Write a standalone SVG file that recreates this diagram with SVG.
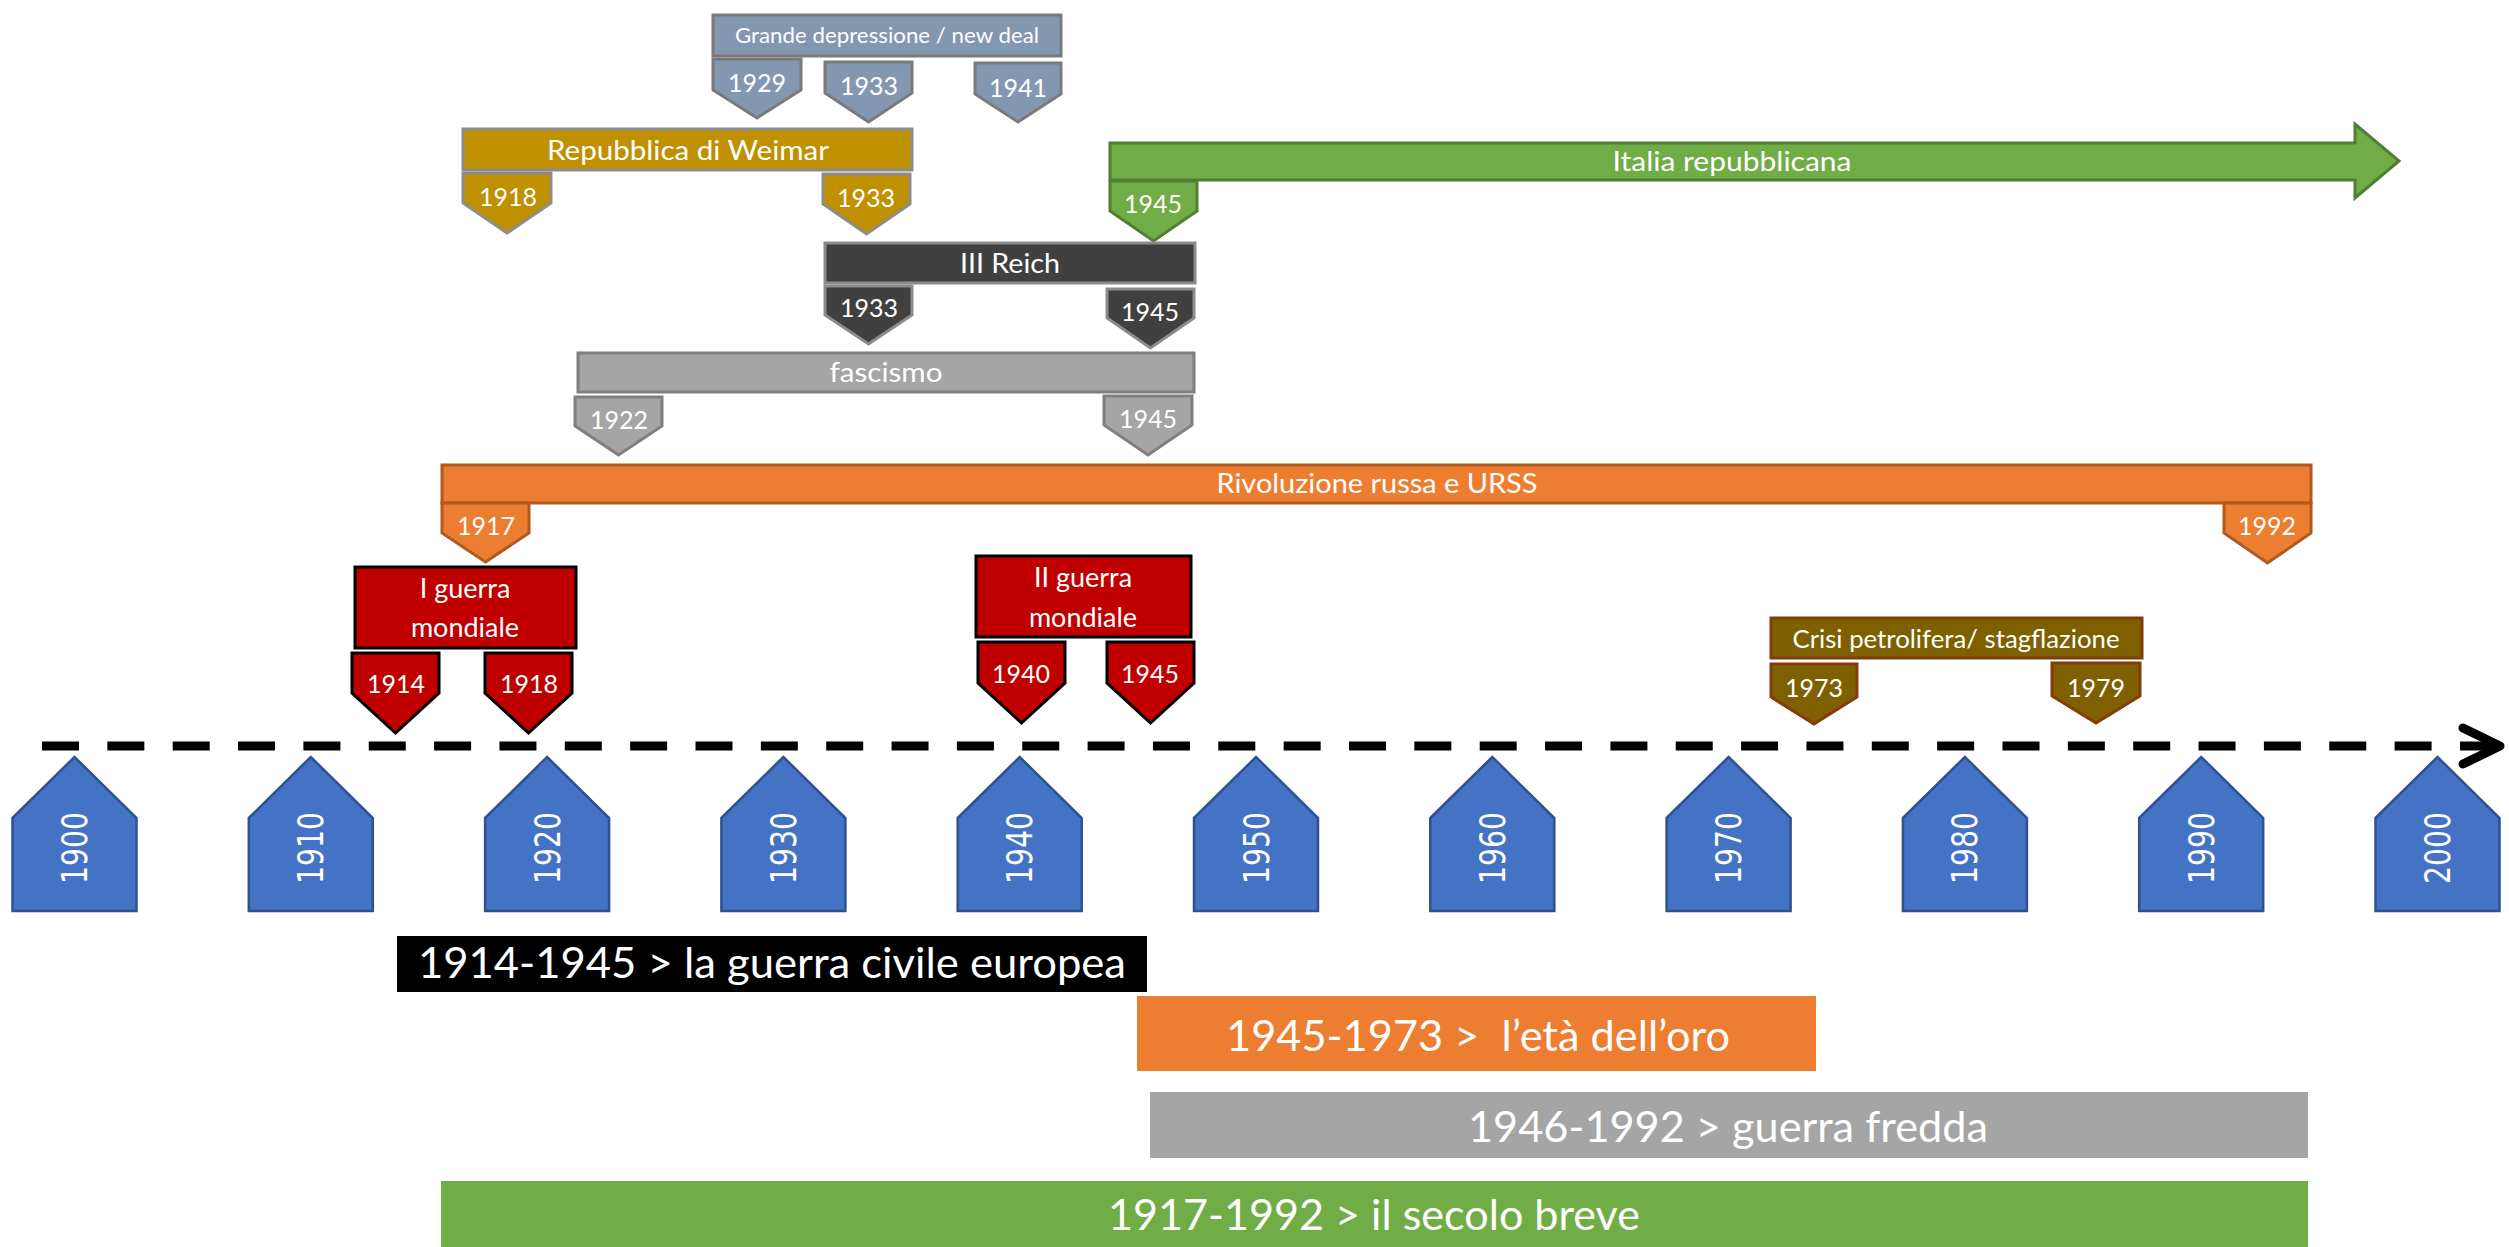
<svg xmlns="http://www.w3.org/2000/svg" width="2509" height="1247" viewBox="0 0 2509 1247">
<style>
text{font-family:Lato,"Liberation Sans",sans-serif;fill:#fff;text-anchor:middle}
.yr{font-size:25px}
.lb{font-size:27px}
.big{font-size:42px}
.dec{font-family:"DejaVu Sans",Verdana,sans-serif;font-size:35px}
.gd{fill:#8497B0;stroke:#7A7A7A;stroke-width:3}
.wm{fill:#BF9000;stroke:#8C8C8C;stroke-width:3}
.it{fill:#70AD47;stroke:#507E32;stroke-width:3}
.rc{fill:#404040;stroke:#8C8C8C;stroke-width:3}
.fa{fill:#A5A5A5;stroke:#7F7F7F;stroke-width:3}
.ur{fill:#ED7D31;stroke:#AE5A21;stroke-width:3}
.wr{fill:#C00000;stroke:#000;stroke-width:3}
.cr{fill:#7F6000;stroke:#843C0C;stroke-width:3}
.hs{fill:#4472C4;stroke:#2F528F;stroke-width:2.5}
</style>
<g id="timeline">
<line x1="42" y1="746" x2="2496" y2="746" stroke="#000" stroke-width="9" stroke-dasharray="37 28.35"/>
<path d="M2463,728 L2500,746 L2463,764" fill="none" stroke="#000" stroke-width="9" stroke-linecap="round" stroke-linejoin="round"/>
</g>
<g id="decades">
<g id="d1900"><path class="hs" d="M12.5,818 L74.5,757 L136.5,818 L136.5,911 L12.5,911Z"/><text class="dec" transform="translate(87,848) rotate(-90)" textLength="72" lengthAdjust="spacingAndGlyphs">1900</text></g>
<g id="d1910"><path class="hs" d="M248.8,818 L310.8,757 L372.8,818 L372.8,911 L248.8,911Z"/><text class="dec" transform="translate(323.3,848) rotate(-90)" textLength="72" lengthAdjust="spacingAndGlyphs">1910</text></g>
<g id="d1920"><path class="hs" d="M485.1,818 L547.1,757 L609.1,818 L609.1,911 L485.1,911Z"/><text class="dec" transform="translate(559.6,848) rotate(-90)" textLength="72" lengthAdjust="spacingAndGlyphs">1920</text></g>
<g id="d1930"><path class="hs" d="M721.4,818 L783.4,757 L845.4,818 L845.4,911 L721.4,911Z"/><text class="dec" transform="translate(795.9,848) rotate(-90)" textLength="72" lengthAdjust="spacingAndGlyphs">1930</text></g>
<g id="d1940"><path class="hs" d="M957.7,818 L1019.7,757 L1081.7,818 L1081.7,911 L957.7,911Z"/><text class="dec" transform="translate(1032.2,848) rotate(-90)" textLength="72" lengthAdjust="spacingAndGlyphs">1940</text></g>
<g id="d1950"><path class="hs" d="M1194,818 L1256,757 L1318,818 L1318,911 L1194,911Z"/><text class="dec" transform="translate(1268.5,848) rotate(-90)" textLength="72" lengthAdjust="spacingAndGlyphs">1950</text></g>
<g id="d1960"><path class="hs" d="M1430.3,818 L1492.3,757 L1554.3,818 L1554.3,911 L1430.3,911Z"/><text class="dec" transform="translate(1504.8,848) rotate(-90)" textLength="72" lengthAdjust="spacingAndGlyphs">1960</text></g>
<g id="d1970"><path class="hs" d="M1666.6,818 L1728.6,757 L1790.6,818 L1790.6,911 L1666.6,911Z"/><text class="dec" transform="translate(1741.1,848) rotate(-90)" textLength="72" lengthAdjust="spacingAndGlyphs">1970</text></g>
<g id="d1980"><path class="hs" d="M1902.9,818 L1964.9,757 L2026.9,818 L2026.9,911 L1902.9,911Z"/><text class="dec" transform="translate(1977.4,848) rotate(-90)" textLength="72" lengthAdjust="spacingAndGlyphs">1980</text></g>
<g id="d1990"><path class="hs" d="M2139.2,818 L2201.2,757 L2263.2,818 L2263.2,911 L2139.2,911Z"/><text class="dec" transform="translate(2213.7,848) rotate(-90)" textLength="72" lengthAdjust="spacingAndGlyphs">1990</text></g>
<g id="d2000"><path class="hs" d="M2375.5,818 L2437.5,757 L2499.5,818 L2499.5,911 L2375.5,911Z"/><text class="dec" transform="translate(2450,848) rotate(-90)" textLength="72" lengthAdjust="spacingAndGlyphs">2000</text></g>
</g>
<g id="grande-depressione">
<rect class="gd" x="713" y="15" width="348" height="41"/>
<text x="887" y="43" font-size="21" textLength="304" lengthAdjust="spacingAndGlyphs">Grande depressione / new deal</text>
<path class="gd" d="M713,59 H801 V90 L757,118 L713,90Z"/><text class="yr" x="757" y="92">1929</text>
<path class="gd" d="M825,62 H912 V93 L868.5,122 L825,93Z"/><text class="yr" x="869" y="95">1933</text>
<path class="gd" d="M975,63 H1061 V94 L1018,122 L975,94Z"/><text class="yr" x="1018" y="97">1941</text>
</g>
<g id="weimar">
<rect class="wm" x="463" y="129" width="449" height="41"/>
<text class="lb" x="688" y="160" font-size="28" textLength="282" lengthAdjust="spacingAndGlyphs">Repubblica di Weimar</text>
<path class="wm" d="M463,173 H551 V203 L507,233 L463,203Z"/><text class="yr" x="508" y="206">1918</text>
<path class="wm" d="M823,174 H910 V204 L866.5,234 L823,204Z"/><text class="yr" x="866" y="207">1933</text>
</g>
<g id="italia-repubblicana">
<path class="it" d="M1110,143 H2355 V124 L2399,161 L2355,198 V180 H1110Z"/>
<text class="lb" x="1732" y="171" textLength="239" lengthAdjust="spacingAndGlyphs">Italia repubblicana</text>
<path class="it" d="M1110,181 H1197 V211 L1153.5,241 L1110,211Z"/><text class="yr" x="1153" y="213">1945</text>
</g>
<g id="terzo-reich">
<rect class="rc" x="825" y="243" width="370" height="40"/>
<text class="lb" x="1010" y="273" font-size="28" textLength="100" lengthAdjust="spacingAndGlyphs">III Reich</text>
<path class="rc" d="M825,286 H912 V315 L868.5,344 L825,315Z"/><text class="yr" x="869" y="317">1933</text>
<path class="rc" d="M1107,289 H1194 V318 L1150.5,348 L1107,318Z"/><text class="yr" x="1150" y="321">1945</text>
</g>
<g id="fascismo">
<rect class="fa" x="578" y="353" width="616" height="39"/>
<text class="lb" x="886" y="382" font-size="28" textLength="113" lengthAdjust="spacingAndGlyphs">fascismo</text>
<path class="fa" d="M575,397 H662 V426 L618.5,455 L575,426Z"/><text class="yr" x="619" y="429">1922</text>
<path class="fa" d="M1104,396 H1192 V425 L1148,455 L1104,425Z"/><text class="yr" x="1148" y="428">1945</text>
</g>
<g id="rivoluzione-russa">
<rect class="ur" x="442" y="465" width="1869" height="38"/>
<text class="lb" x="1377" y="493" textLength="321" lengthAdjust="spacingAndGlyphs">Rivoluzione russa e URSS</text>
<path class="ur" d="M442,503 H529 V533 L485.5,562 L442,533Z"/><text class="yr" x="486" y="535">1917</text>
<path class="ur" d="M2224,503 H2311 V533 L2267.5,563 L2224,533Z"/><text class="yr" x="2267" y="535">1992</text>
</g>
<g id="prima-guerra">
<rect class="wr" x="355" y="567" width="221" height="81"/>
<text class="lb" x="465" y="598">I guerra</text>
<text class="lb" x="465" y="637">mondiale</text>
<path class="wr" d="M352,653 H439 V693 L395.5,733 L352,693Z"/><text class="yr" x="396" y="693">1914</text>
<path class="wr" d="M485,653 H572 V693 L528.5,733 L485,693Z"/><text class="yr" x="529" y="693">1918</text>
</g>
<g id="seconda-guerra">
<rect class="wr" x="976" y="556" width="215" height="81"/>
<text class="lb" x="1083" y="587">II guerra</text>
<text class="lb" x="1083" y="627">mondiale</text>
<path class="wr" d="M978,642 H1065 V683 L1021.5,723 L978,683Z"/><text class="yr" x="1021" y="683">1940</text>
<path class="wr" d="M1107,642 H1194 V683 L1150.5,723 L1107,683Z"/><text class="yr" x="1150" y="683">1945</text>
</g>
<g id="crisi-petrolifera">
<rect class="cr" x="1771" y="618" width="371" height="40"/>
<text x="1956" y="648" font-size="25" textLength="327" lengthAdjust="spacingAndGlyphs">Crisi petrolifera/ stagflazione</text>
<path class="cr" d="M1771,664 H1857 V697 L1814,724 L1771,697Z"/><text class="yr" x="1814" y="697">1973</text>
<path class="cr" d="M2052,663 H2140 V696 L2096,723 L2052,696Z"/><text class="yr" x="2096" y="697">1979</text>
</g>
<g id="guerra-civile-europea">
<rect x="397" y="936" width="750" height="56" fill="#000"/>
<text class="big" x="418" y="978" style="text-anchor:start" textLength="708" lengthAdjust="spacingAndGlyphs">1914-1945 &gt; la guerra civile europea</text>
</g>
<g id="eta-oro">
<rect x="1137" y="996" width="679" height="75" fill="#ED7D31"/>
<text class="big" x="1478" y="1051" xml:space="preserve" textLength="504" lengthAdjust="spacingAndGlyphs">1945-1973 &gt;  l’età dell’oro</text>
</g>
<g id="guerra-fredda">
<rect x="1150" y="1092" width="1158" height="66" fill="#A5A5A5"/>
<text class="big" x="1728" y="1142" textLength="520" lengthAdjust="spacingAndGlyphs">1946-1992 &gt; guerra fredda</text>
</g>
<g id="secolo-breve">
<rect x="441" y="1181" width="1867" height="66" fill="#70AD47"/>
<text class="big" x="1374" y="1230" textLength="532" lengthAdjust="spacingAndGlyphs">1917-1992 &gt; il secolo breve</text>
</g>
</svg>
